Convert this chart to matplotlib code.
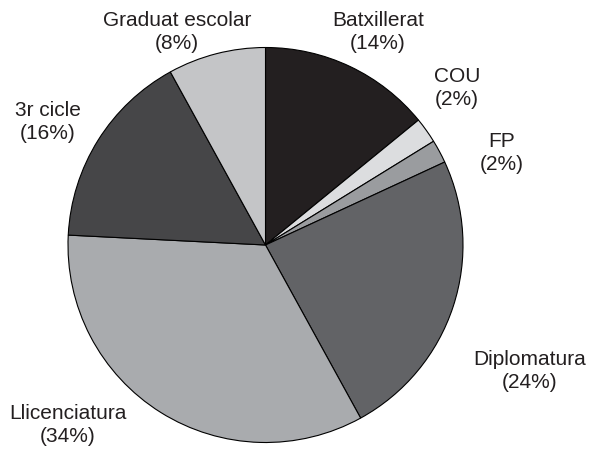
import matplotlib
matplotlib.use("Agg")
import matplotlib.pyplot as plt

# Data
categories = ["Batxillerat", "COU", "FP", "Diplomatura", "Llicenciatura", "3r cicle", "Graduat escolar"]
values = [14.1, 2.1, 1.9, 23.9, 33.8, 16.2, 8.0]
colors = ["#231f20", "#dcdddf", "#9a9c9f", "#626366", "#a9abae", "#464648", "#c4c5c7"]

# Label centres in pixels (x from left, y from top)
label_pos = [(378, 32), (457, 88), (502, 153), (530, 371), (68, 425), (48, 122), (177, 32)]

W, H = 589, 450
fig = plt.figure(figsize=(W / 100, H / 100), dpi=100)
fig.patch.set_facecolor("white")

cx, cy, r = 265.5, 245, 197.5
ax = fig.add_axes([(cx - r) / W, (H - cy - r) / H, 2 * r / W, 2 * r / H])
ax.pie(values, colors=colors, startangle=90, counterclock=False,
       wedgeprops=dict(edgecolor="black", linewidth=0.8), radius=1.0)
ax.set_xlim(-1.0, 1.0)
ax.set_ylim(-1.0, 1.0)
ax.set_aspect("equal")
ax.axis("off")

total = sum(values)
for name, v, (px, py) in zip(categories, values, label_pos):
    pct = round(100 * v / total)
    fig.text(px / W, 1 - py / H, f"{name}\n({pct}%)", ha="center", va="center",
             fontsize=15, family=["Liberation Sans", "DejaVu Sans"],
             color="#231f20", linespacing=1.25)

fig.savefig("out.png", dpi=100, facecolor="white")
